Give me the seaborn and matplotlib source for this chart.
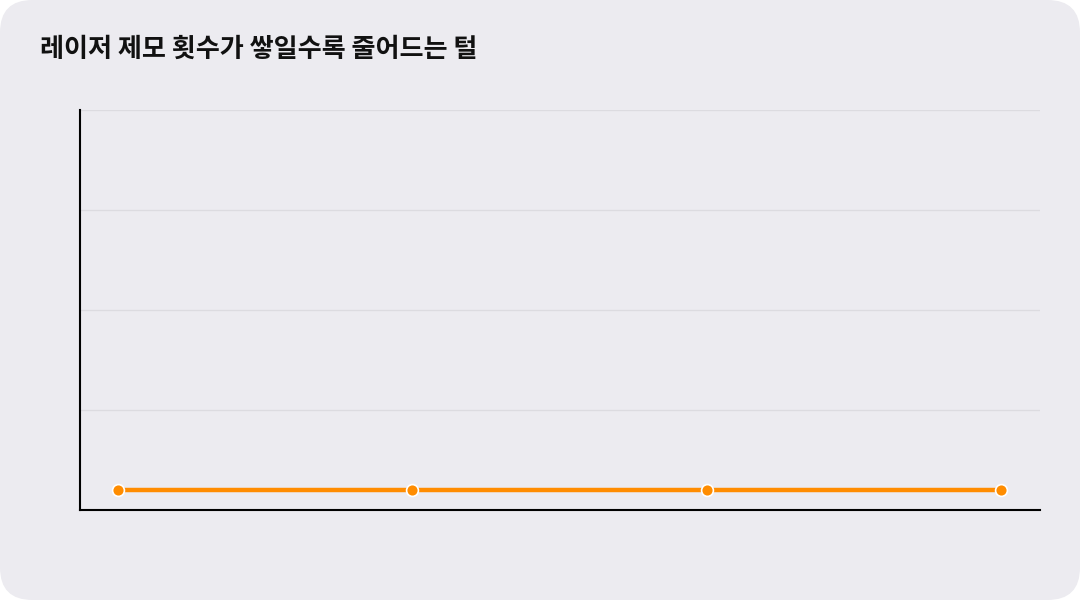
import matplotlib.pyplot as plt
import pandas as pd
import seaborn as sns
from matplotlib.patches import FancyBboxPatch

title = "레이저 제모 횟수가 쌓일수록 줄어드는 털"
sessions = ["1회", "2회", "3회", "4회"]
hair_amount = [5, 5, 5, 5]
grid_ticks = [0, 25, 50, 75, 100]

BG = "#ecebf0"
ORANGE = "#ff8c00"


def main():
    sns.set_style("white")
    plt.rcParams["font.family"] = ["Noto Sans CJK KR", "DejaVu Sans"]

    df = pd.DataFrame({"session": sessions, "amount": hair_amount})

    fig = plt.figure(figsize=(10.8, 6), dpi=100)
    fig.patch.set_facecolor("white")
    card = FancyBboxPatch(
        (0, 0), 1, 1, boxstyle="round,pad=0,rounding_size=0.03",
        transform=fig.transFigure, facecolor=BG, edgecolor="none",
        mutation_aspect=1.8, zorder=-10,
    )
    fig.patches.append(card)

    ax = fig.add_axes([0.0741, 0.15, 0.889, 0.6667])
    ax.set_facecolor(BG)

    sns.lineplot(
        data=df, x="session", y="amount", ax=ax, color=ORANGE, linewidth=3.2,
        marker="o", markersize=8.5, markeredgecolor="white", markeredgewidth=1.2,
        sort=False,
    )

    ax.set_ylim(0, 100)
    ax.set_xlim(-0.129, 3.132)
    ax.set_yticks(grid_ticks)
    ax.yaxis.grid(True, color="#dcdbe0", linewidth=0.9)
    ax.set_axisbelow(True)
    ax.tick_params(left=False, bottom=False, labelleft=False, labelbottom=False)
    ax.set_xlabel("")
    ax.set_ylabel("")
    for side in ["top", "right"]:
        ax.spines[side].set_visible(False)
    for side in ["left", "bottom"]:
        ax.spines[side].set_color("black")
        ax.spines[side].set_linewidth(1.5)

    fig.text(0.037, 0.918, title, fontsize=18.8, fontweight="bold",
             color="#111111", va="center", ha="left")

    plt.savefig("out.png", dpi=100, facecolor=fig.get_facecolor())


if __name__ == "__main__":
    main()
